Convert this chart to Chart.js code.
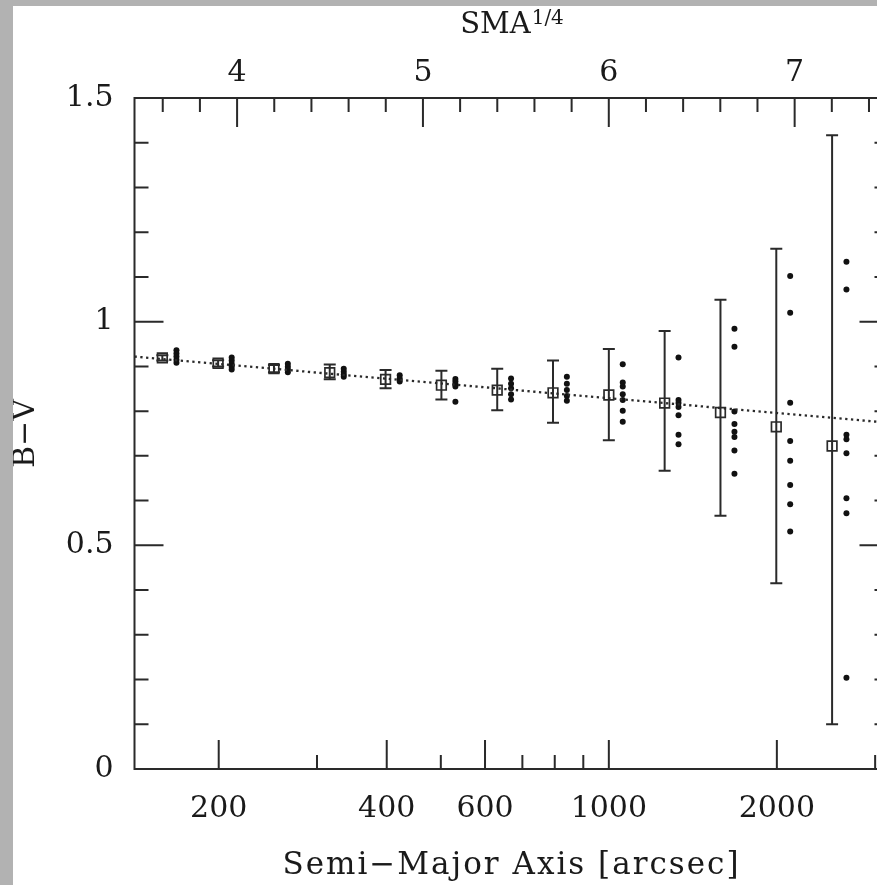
<!DOCTYPE html>
<html lang="en">
<head>
  <meta charset="UTF-8">
  <title>B-V vs Semi-Major Axis</title>
  <script src="https://cdn.jsdelivr.net/npm/chart.js"></script>
  <style>
    html, body { margin: 0; padding: 0; overflow: hidden; width: 877px; height: 885px; background: #b2b2b2; }
    #wrap { position: absolute; left: 13px; top: 6px; width: 884px; height: 879px; background: #fff; }
  </style>
</head>
<body>
  <div id="wrap"><canvas id="colorChart"></canvas></div>

  <script>
    // averaged colour per radial bin (open squares), with the ends of its error bar
    const sqX = [158.5, 199.5, 251.2, 316.2, 398.1, 501.2, 631.0, 794.3, 1000, 1258.9, 1584.9, 1995.3, 2511.9];
    const sqY = [0.919, 0.907, 0.895, 0.886, 0.871, 0.858, 0.847, 0.841, 0.836, 0.818, 0.797, 0.765, 0.722];
    const sqHi = [0.925, 0.914, 0.903, 0.904, 0.892, 0.890, 0.895, 0.913, 0.939, 0.979, 1.049, 1.163, 1.417];
    const sqLo = [0.913, 0.900, 0.887, 0.871, 0.851, 0.826, 0.802, 0.774, 0.735, 0.667, 0.566, 0.415, 0.100];

    // individual measurements (filled dots), one column per bin
    const dotX = [168, 211, 266, 335, 422, 531, 668, 841, 1059, 1333, 1679, 2113, 2665];
    const dotY = [
      [0.936, 0.929, 0.922, 0.915, 0.908],
      [0.920, 0.913, 0.906, 0.899, 0.893],
      [0.906, 0.899, 0.893, 0.887],
      [0.895, 0.888, 0.882, 0.877],
      [0.880, 0.873, 0.866],
      [0.872, 0.866, 0.860, 0.855, 0.821],
      [0.873, 0.861, 0.851, 0.838, 0.826],
      [0.877, 0.861, 0.847, 0.834, 0.823],
      [0.905, 0.864, 0.855, 0.838, 0.825, 0.801, 0.776],
      [0.920, 0.825, 0.818, 0.809, 0.791, 0.747, 0.726],
      [0.984, 0.944, 0.799, 0.771, 0.754, 0.742, 0.712, 0.660],
      [1.102, 1.020, 0.819, 0.733, 0.689, 0.635, 0.592, 0.531],
      [1.134, 1.072, 0.747, 0.737, 0.706, 0.605, 0.572, 0.204]
    ];

    // dotted linear fit
    const fitX = [141.3, 3170];
    const fitY = [0.922, 0.774];

    // axes
    const xRange = [141.3, 3170];
    const topRange = [3.448, 7.505];
    const xMajor = [200, 400, 600, 1000, 2000];
    const xMinor = [300, 500, 700, 800, 900, 3000];
    const topMajor = [4, 5, 6, 7];
    const topMinor = [3.6, 3.8, 4.2, 4.4, 4.6, 4.8, 5.2, 5.4, 5.6, 5.8, 6.2, 6.4, 6.6, 6.8, 7.2, 7.4];
    const yMajor = [0, 0.5, 1, 1.5];
    const yMinor = [0.1, 0.2, 0.3, 0.4, 0.6, 0.7, 0.8, 0.9, 1.1, 1.2, 1.3, 1.4];

    const ink = '#2a2a2a';
    const serif = '"DejaVu Serif", serif';
    Chart.defaults.font.family = serif;
    Chart.defaults.font.size = 30;
    Chart.defaults.color = '#1a1a1a';

    // error bars: one broken line, nulls split the segments
    const errData = [];
    sqX.forEach((x, i) => {
      errData.push({ x: x, y: sqLo[i] });
      errData.push({ x: x, y: sqHi[i] });
      errData.push({ x: x, y: null });
    });
    const dotData = [];
    dotY.forEach((col, i) => col.forEach(v => dotData.push({ x: dotX[i], y: v })));

    // frame, inward ticks on all four sides, axis titles
    const frame = {
      id: 'frame',
      afterDatasetsDraw(chart) {
        const { ctx, chartArea: a, scales } = chart;
        ctx.save();
        ctx.strokeStyle = ink;
        ctx.lineWidth = 2;
        ctx.strokeRect(a.left, a.top, a.right - a.left, a.bottom - a.top);
        ctx.beginPath();
        const vt = (px, len, y0, dir) => { ctx.moveTo(px, y0); ctx.lineTo(px, y0 + dir * len); };
        const ht = (py, len, x0, dir) => { ctx.moveTo(x0, py); ctx.lineTo(x0 + dir * len, py); };
        xMajor.forEach(v => vt(scales.x.getPixelForValue(v), 29, a.bottom, -1));
        xMinor.forEach(v => vt(scales.x.getPixelForValue(v), 14, a.bottom, -1));
        topMajor.forEach(v => vt(scales.x2.getPixelForValue(v), 29, a.top, 1));
        topMinor.forEach(v => vt(scales.x2.getPixelForValue(v), 14, a.top, 1));
        yMajor.forEach(v => {
          const p = scales.y.getPixelForValue(v);
          ht(p, 29, a.left, 1); ht(p, 29, a.right, -1);
        });
        yMinor.forEach(v => {
          const p = scales.y.getPixelForValue(v);
          ht(p, 14, a.left, 1); ht(p, 14, a.right, -1);
        });
        ctx.stroke();

        const cx = (a.left + a.right) / 2;
        ctx.fillStyle = '#1a1a1a';

        // bottom title
        ctx.textAlign = 'center';
        ctx.textBaseline = 'middle';
        ctx.font = '31px ' + serif;
        ctx.letterSpacing = '2px';
        ctx.fillText('Semi\u2212Major Axis [arcsec]', cx, 860);
        ctx.letterSpacing = '0px';

        // top title with superscript
        ctx.textAlign = 'left';
        ctx.textBaseline = 'alphabetic';
        ctx.font = '29px ' + serif;
        const w1 = ctx.measureText('SMA').width;
        ctx.font = '20px ' + serif;
        const w2 = ctx.measureText('1/4').width;
        const x0 = cx - (w1 + w2) / 2;
        ctx.font = '29px ' + serif;
        ctx.fillText('SMA', x0, 27);
        ctx.font = '20px ' + serif;
        ctx.fillText('1/4', x0 + w1 + 1, 18);
        ctx.restore();
      }
    };

    new Chart(document.getElementById('colorChart'), {
      type: 'scatter',
      data: {
        datasets: [
          {
            label: 'fit', data: fitX.map((x, i) => ({ x: x, y: fitY[i] })),
            showLine: true, borderColor: ink, borderWidth: 2.3, borderDash: [2.3, 3.5],
            pointRadius: 0
          },
          {
            label: 'points', data: dotData,
            pointStyle: 'circle', pointRadius: 3, pointBorderWidth: 0,
            backgroundColor: '#111', borderColor: '#111'
          },
          {
            label: 'mean', data: sqX.map((x, i) => ({ x: x, y: sqY[i] })),
            pointStyle: 'rect', pointRadius: 6.8, pointBorderWidth: 1.7,
            borderColor: ink, backgroundColor: 'rgba(0,0,0,0)'
          },
          {
            label: 'error', data: errData,
            showLine: true, spanGaps: false, borderColor: ink, borderWidth: 2,
            pointStyle: 'line', pointRadius: 6, pointBorderWidth: 2, pointBorderColor: ink
          }
        ]
      },
      options: {
        responsive: true,
        maintainAspectRatio: false,
        animation: false,
        events: [],
        layout: { padding: { left: 0, right: 7, top: 0, bottom: 0 } },
        plugins: { legend: { display: false }, tooltip: { enabled: false } },
        scales: {
          x: {
            type: 'logarithmic', position: 'bottom',
            min: xRange[0], max: xRange[1],
            afterBuildTicks: s => { s.ticks = xMajor.map(v => ({ value: v })); },
            afterFit: s => { s.height = 116; },
            grid: { display: false, drawTicks: false },
            border: { display: false },
            ticks: { autoSkip: false, maxRotation: 0, padding: 22, callback: v => String(v) }
          },
          x2: {
            type: 'linear', position: 'top',
            min: topRange[0], max: topRange[1],
            afterBuildTicks: s => { s.ticks = topMajor.map(v => ({ value: v })); },
            afterFit: s => { s.height = 92; },
            grid: { display: false, drawTicks: false },
            border: { display: false },
            ticks: { autoSkip: false, maxRotation: 0, padding: 7, callback: v => String(v) }
          },
          y: {
            type: 'linear', position: 'left',
            min: 0, max: 1.5,
            afterBuildTicks: s => { s.ticks = yMajor.map(v => ({ value: v })); },
            afterFit: s => { s.width = 121.5; },
            grid: { display: false, drawTicks: false },
            border: { display: false },
            ticks: { padding: 21, callback: v => String(v) },
            title: {
              display: true, text: 'B\u2212V',
              font: { size: 30, lineHeight: 0.8 }, padding: { top: 1, bottom: 0 }
            }
          }
        }
      },
      plugins: [frame]
    });
  </script>
</body>
</html>
